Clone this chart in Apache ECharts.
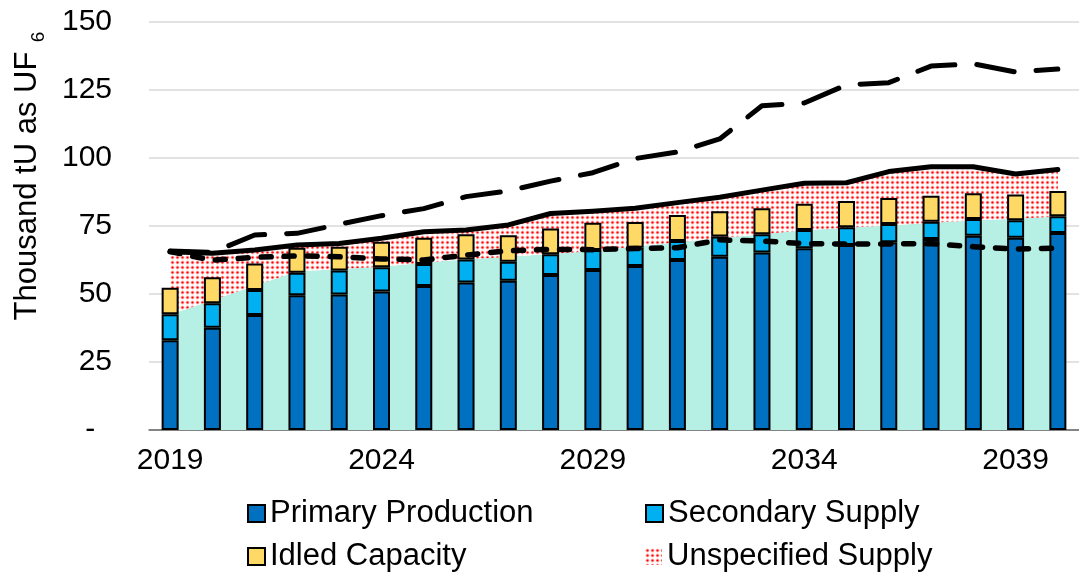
<!DOCTYPE html>
<html>
<head>
<meta charset="utf-8">
<script src="https://cdn.jsdelivr.net/npm/echarts@6/dist/echarts.min.js"></script>
<style>
html, body { margin: 0; padding: 0; background: #fff; }
#chart { width: 1079px; height: 573px; }
</style>
</head>
<body>
<div id="chart"></div>
<script>
// 数据 (thousand tU as UF6)
var years = ['2019', '2020', '2021', '2022', '2023', '2024', '2025', '2026', '2027', '2028', '2029',
	'2030', '2031', '2032', '2033', '2034', '2035', '2036', '2037', '2038', '2039', '2040'];
var primaryProduction = [33, 37.6, 42.3, 49.5, 49.8, 50.9, 52.9, 54.2, 54.9, 57, 58.8,
	60.3, 62.5, 63.7, 65.3, 66.8, 68, 69, 70.2, 71.4, 70.7, 72.4];
var secondarySupply = [9.6, 9.0, 9.2, 8.3, 8.8, 8.9, 8.1, 8.5, 7.0, 7.6, 7.4,
	6.7, 7.0, 7.4, 6.7, 6.7, 6.5, 6.7, 6.4, 6.2, 6.4, 6.2];
var idledCapacity = [9.7, 9.6, 9.7, 9.2, 8.8, 9.4, 9.7, 9.3, 9.7, 9.5, 10.0,
	9.5, 9.5, 9.3, 9.5, 9.7, 9.7, 9.6, 9.5, 9.4, 9.5, 9.3];
// 底部薄荷色面积的上沿
var mintTop = [42.5, 47.7, 53, 58.3, 59.2, 60, 61.5, 62.8, 63.6, 64.8, 65.7,
	67.5, 69, 70.5, 72, 73.4, 74.4, 75.2, 76.2, 77, 77.7, 78.5];
// 实线 (红点面积的上沿)
var referenceCase = [65.5, 65, 66.2, 68, 68.6, 70.5, 72.9, 73.5, 75.4, 79.6, 80.4,
	81.5, 83.6, 85.6, 88.2, 90.7, 90.9, 95, 96.8, 96.8, 94.1, 95.8];
// 长虚线
var upperCase = [65.8, 65.3, 71.7, 72.3, 75.6, 78.8, 81.4, 85.8, 87.9, 91.5, 94.6,
	99.8, 102.2, 107, 119.2, 120.2, 126.9, 127.7, 133.8, 134.6, 131.6, 132.7];
// 短虚线
var lowerCase = [65.6, 62.4, 63.5, 64, 63.7, 62.9, 62.5, 64.3, 65.9, 66.4, 66.3,
	66.7, 67, 69.9, 69.5, 68.5, 68.4, 68.4, 68.5, 67.4, 66.5, 66.9];
var yTicks = [0, 25, 50, 75, 100, 125, 150];

var unspecifiedSupply = referenceCase.map(function(v, i) {
	return +(v - mintTop[i]).toFixed(2);
});

// 红色点状填充
function dotPattern() {
	var c = document.createElement('canvas');
	c.width = 5;
	c.height = 5;
	var g = c.getContext('2d');
	g.fillStyle = '#ffffff';
	g.fillRect(0, 0, 5, 5);
	g.fillStyle = '#ffb8b8';
	g.beginPath();
	g.arc(2.5, 2.5, 1.9, 0, Math.PI * 2);
	g.fill();
	g.fillStyle = '#ff0000';
	g.beginPath();
	g.arc(2.5, 2.5, 1.1, 0, Math.PI * 2);
	g.fill();
	return { image: c, repeat: 'repeat' };
}
var dots = dotPattern();

var font = 'Liberation Sans, Arial, sans-serif';
var lineBase = { type: 'line', symbol: 'none', silent: true, z: 5 };

// 每个图例单独放置, 两列对齐
function legendItem(name, left, top, extra) {
	return {
		left : left,
		top : top,
		itemWidth : 17,
		itemHeight : 17,
		icon : 'rect',
		selectedMode : false,
		textStyle : { fontSize : 31, color : '#000', fontFamily : font },
		data : [ echarts.util.extend({ name : name }, extra || {}) ]
	};
}

var myChart = echarts.init(document.getElementById('chart'));
var option = {
	animation : false,
	textStyle : { fontFamily : font },
	grid : { left : 149, right : -14, top : 22, bottom : 143 },
	legend : [
		legendItem('Primary Production', 242, 493),
		legendItem('Idled Capacity', 242, 536),
		legendItem('Secondary Supply', 640, 493),
		legendItem('Unspecified Supply', 640, 536, { itemStyle : { color : dots, borderWidth : 0 } })
	],
	xAxis : {
		type : 'category',
		data : years,
		axisTick : { show : false },
		axisLine : { lineStyle : { color : '#666', width : 1.5 } },
		axisLabel : {
			interval : 4,
			margin : 16,
			fontSize : 30,
			color : '#000',
			fontFamily : font
		}
	},
	yAxis : {
		type : 'value',
		min : yTicks[0],
		max : yTicks[yTicks.length - 1],
		interval : 25,
		axisLine : { show : false },
		axisTick : { show : false },
		splitLine : { lineStyle : { color : '#d9d9d9', width : 1.5 } },
		axisLabel : {
			margin : 37,
			fontSize : 30,
			color : '#000',
			fontFamily : font,
			formatter : function(v) {
				return v === 0 ? '-  ' : String(v);
			}
		}
	},
	graphic : [ {
		type : 'text',
		x : 27,
		y : 186,
		rotation : Math.PI / 2,
		style : {
			text : 'Thousand tU as UF',
			fontSize : 31,
			fontFamily : font,
			fill : '#000',
			align : 'center',
			verticalAlign : 'middle'
		}
	}, {
		type : 'text',
		x : 39,
		y : 37,
		rotation : Math.PI / 2,
		style : {
			text : '6',
			fontSize : 19,
			fontFamily : font,
			fill : '#000',
			align : 'center',
			verticalAlign : 'middle'
		}
	} ],
	series : [ {
		name : 'Base',
		type : 'line',
		stack : 'area',
		z : 1,
		symbol : 'none',
		silent : true,
		lineStyle : { width : 0 },
		areaStyle : { color : '#b6efe3', opacity : 1 },
		data : mintTop
	}, {
		name : 'Unspecified Supply',
		type : 'line',
		stack : 'area',
		z : 1,
		symbol : 'none',
		silent : true,
		itemStyle : { color : dots },
		lineStyle : { width : 0 },
		areaStyle : { color : dots, opacity : 1 },
		data : unspecifiedSupply
	}, {
		name : 'Primary Production',
		type : 'bar',
		stack : 'bar',
		barWidth : 17,
		itemStyle : { color : '#0070c0', borderColor : '#000', borderWidth : 2 },
		data : primaryProduction
	}, {
		name : 'Secondary Supply',
		type : 'bar',
		stack : 'bar',
		barWidth : 17,
		itemStyle : { color : '#00b0f0', borderColor : '#000', borderWidth : 2 },
		data : secondarySupply
	}, {
		name : 'Idled Capacity',
		type : 'bar',
		stack : 'bar',
		barWidth : 17,
		itemStyle : { color : '#ffd966', borderColor : '#000', borderWidth : 2 },
		data : idledCapacity
	}, echarts.util.merge({
		name : 'Reference',
		lineStyle : { color : '#000', width : 5, cap : 'round', join : 'round' },
		data : referenceCase
	}, lineBase, true), echarts.util.merge({
		name : 'Upper',
		lineStyle : { color : '#000', width : 5, type : [ 38, 22 ], cap : 'round', join : 'round' },
		data : upperCase
	}, lineBase, true), echarts.util.merge({
		name : 'Lower',
		lineStyle : { color : '#000', width : 5.5, type : [ 10, 13 ], cap : 'round', join : 'round' },
		data : lowerCase
	}, lineBase, true) ]
};
myChart.setOption(option);
</script>
</body>
</html>
